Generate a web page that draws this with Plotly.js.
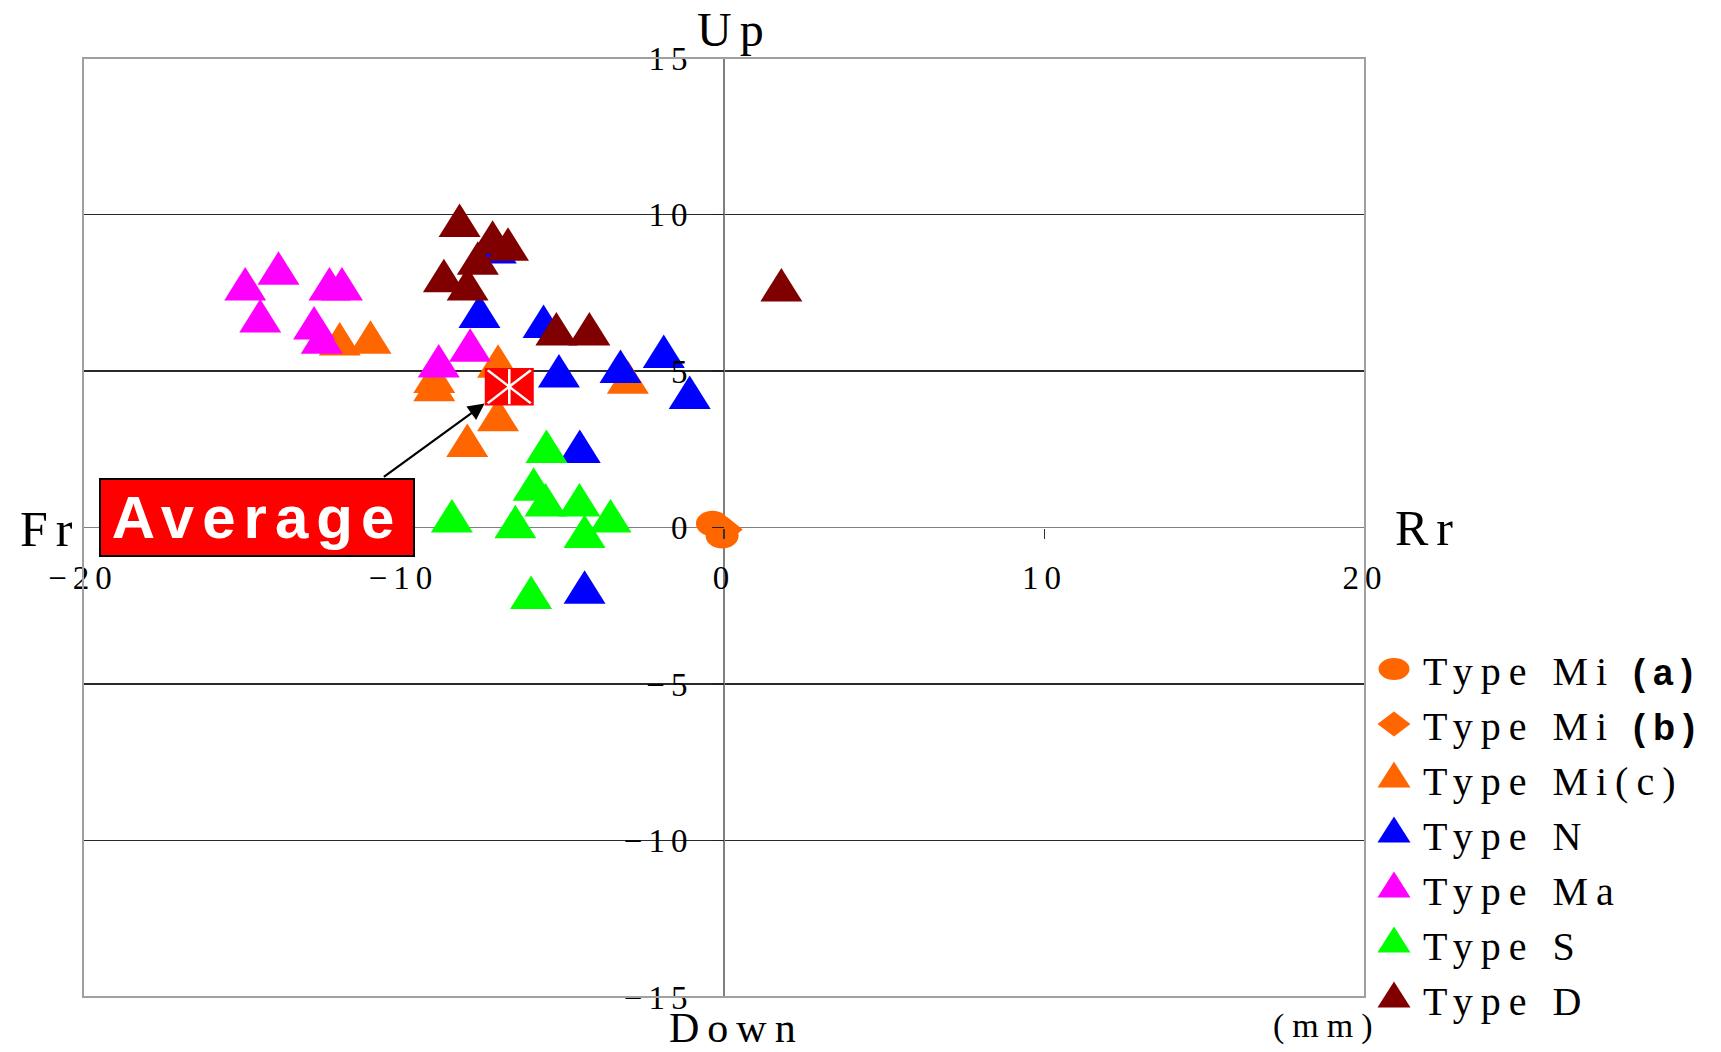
<!DOCTYPE html>
<html><head><meta charset="utf-8">
<script src="https://cdn.plot.ly/plotly-3.0.1.min.js"></script>
<style>
html,body{margin:0;padding:0;background:#fff;}
#plot{width:1721px;height:1052px;}
.xtick text,.ytick text{letter-spacing:6px;}
.legendtext{letter-spacing:8px;}
.annotation-text{letter-spacing:8px;}
</style></head><body><div id="plot"></div>
<script>
// ---- data (mm) ----
const miaX = [-0.36, -0.06];
const miaY = [0.13, -0.26];
const mibX = [0.10];
const mibY = [-0.06];
const micX = [-11.99, -11.03, -9.04, -9.04, -7.05, -7.05, -8.01, -3.00];
const micY = [5.85, 5.91, 4.65, 4.39, 5.14, 3.43, 2.61, 4.63];
const nX = [-7.12, -7.63, -5.63, -5.15, -3.23, -1.88, -1.07, -4.50, -4.35];
const nY = [8.79, 6.73, 6.41, 4.83, 4.97, 5.45, 4.14, 2.42, -2.08];
const maX = [-13.90, -14.94, -14.47, -12.31, -11.92, -12.79, -12.55, -7.92, -8.90];
const maY = [8.11, 7.61, 6.59, 7.61, 7.61, 6.36, 5.91, 5.65, 5.15];
const sX = [-5.54, -5.94, -5.57, -4.51, -3.54, -4.35, -6.51, -8.49, -6.02];
const sY = [2.42, 1.21, 0.71, 0.71, 0.20, -0.30, 0.01, 0.20, -2.25];
const dX = [-8.25, -7.22, -6.74, -7.68, -8.74, -8.00, -5.23, -4.20, 1.79];
const dY = [9.64, 9.10, 8.88, 8.43, 7.87, 7.61, 6.17, 6.17, 7.58];
const avgX = [-6.70];
const avgY = [4.50];
const xTicks = [-20, -10, 0, 10, 20];
const yTicks = [-15, -10, -5, 0, 5, 10, 15];
const seriesNames = [
  'Type Mi <span style="font-family:Liberation Sans;font-size:36px"><b>(a)</b></span>',
  'Type Mi <span style="font-family:Liberation Sans;font-size:36px"><b>(b)</b></span>',
  'Type Mi(c)', 'Type N', 'Type Ma', 'Type S', 'Type D'
];

const ORANGE = '#FF6600', BLUE = '#0000FF', MAGENTA = '#FF00FF', GREEN = '#00FF00', DRED = '#800000';

function tri(x, y, name, color, rank) {
  return {type:'scatter', mode:'markers', x:x, y:y, name:name, legendrank:rank,
    marker:{symbol:'triangle-up', size:37, color:color, line:{width:0}}};
}

const data = [
  {type:'scatter', mode:'markers', x:mibX, y:mibY, name:seriesNames[1], legendrank:2,
   marker:{symbol:'diamond', size:24, color:ORANGE, line:{width:0}}},
  {type:'scatter', mode:'markers', x:miaX, y:miaY, name:seriesNames[0], legendrank:1,
   marker:{symbol:'circle', size:30, color:ORANGE, line:{width:0}}},
  tri(micX, micY, seriesNames[2], ORANGE, 3),
  tri(nX, nY, seriesNames[3], BLUE, 4),
  tri(maX, maY, seriesNames[4], MAGENTA, 5),
  tri(sX, sY, seriesNames[5], GREEN, 6),
  tri(dX, dY, seriesNames[6], DRED, 7),
  {type:'scatter', mode:'markers', x:avgX, y:avgY, showlegend:false,
   marker:{symbol:'square', size:40, color:'#FF0000', line:{width:0}}},
  {type:'scatter', mode:'markers', x:avgX, y:avgY, showlegend:false,
   marker:{symbol:'x-thin-open', size:34, color:'#FFFFFF', line:{width:2.2, color:'#FFFFFF'}}},
  {type:'scatter', mode:'markers', x:avgX, y:avgY, showlegend:false,
   marker:{symbol:'line-ns-open', size:25, color:'#FFFFFF', line:{width:2.6, color:'#FFFFFF'}}}
];

const serif = 'Liberation Serif, Times New Roman, serif';
const layout = {
  width:1721, height:1052,
  margin:{l:83, r:356, t:58, b:55},
  paper_bgcolor:'#fff', plot_bgcolor:'#fff',
  showlegend:true, hovermode:false,
  xaxis:{range:[-20,20], tickvals:xTicks, anchor:'free', position:0.5,
    showgrid:false, zeroline:true, zerolinecolor:'#808080', zerolinewidth:1.6,
    showline:false, ticks:'outside', ticklen:10, tickwidth:1.3, tickcolor:'#333',
    ticklabelstandoff:11,
    tickfont:{family:serif, size:33, color:'#000'}, automargin:false, fixedrange:true},
  yaxis:{range:[-15,15], tickvals:yTicks, anchor:'free', position:0.5,
    showgrid:true, gridcolor:'#2a2a2a', gridwidth:1.2,
    zeroline:true, zerolinecolor:'#808080', zerolinewidth:1.6,
    showline:false, ticks:'outside', ticklen:12, tickwidth:1.3, tickcolor:'#222',
    ticklabelstandoff:12,
    tickfont:{family:serif, size:33, color:'#000'}, automargin:false, fixedrange:true},
  xaxis2:{overlaying:'x', range:[-20,20], tickvals:xTicks, anchor:'free', position:0.5,
    showticklabels:false, showgrid:false, zeroline:false, showline:false,
    ticks:'inside', ticklen:10, tickwidth:1.3, tickcolor:'#333', fixedrange:true},
  yaxis2:{overlaying:'y', range:[-15,15], tickvals:yTicks, anchor:'free', position:0.5,
    showticklabels:false, showgrid:false, zeroline:false, showline:false,
    ticks:'inside', ticklen:12, tickwidth:1.3, tickcolor:'#222', fixedrange:true},
  legend:{x:1.0, xanchor:'left', y:0.384, yanchor:'top', bgcolor:'rgba(0,0,0,0)',
    borderwidth:0, itemwidth:48, traceorder:'normal',
    font:{family:serif, size:40, color:'#000'}},
  shapes:[{type:'rect', xref:'paper', yref:'paper', x0:0, x1:1, y0:0, y1:1,
    line:{color:'#a0a0a0', width:2}, fillcolor:'rgba(0,0,0,0)', layer:'above'}],
  annotations:[
    {xref:'paper', yref:'paper', x:0.508, y:1.030, text:'Up', showarrow:false,
     xanchor:'center', yanchor:'middle', font:{family:serif, size:48, color:'#000'}},
    {xref:'paper', yref:'paper', x:0.510, y:-0.0335, text:'Down', showarrow:false,
     xanchor:'center', yanchor:'middle', font:{family:serif, size:42, color:'#000'}},
    {xref:'paper', yref:'paper', x:-0.026, y:0.498, text:'Fr', showarrow:false,
     xanchor:'center', yanchor:'middle', font:{family:serif, size:50, color:'#000'}},
    {xref:'paper', yref:'paper', x:1.049, y:0.500, text:'Rr', showarrow:false,
     xanchor:'center', yanchor:'middle', font:{family:serif, size:50, color:'#000'}},
    {xref:'paper', yref:'paper', x:0.970, y:-0.031, text:'(mm)', showarrow:false,
     xanchor:'center', yanchor:'middle', font:{family:serif, size:34, color:'#000'}},
    {xref:'x', yref:'y', axref:'x', ayref:'y', x:-7.47, y:3.96, ax:-10.66, ay:1.58,
     text:'', showarrow:true, arrowhead:2, arrowsize:1.5, arrowwidth:2.2,
     arrowcolor:'#000', standoff:0},
    {xref:'x', yref:'y', x:-14.56, y:0.32, text:'Average', showarrow:false,
     xanchor:'center', yanchor:'middle', bgcolor:'#FF0000', bordercolor:'#000',
     borderwidth:2, borderpad:0, width:312, height:75,
     font:{family:'Liberation Sans, Arial, sans-serif', size:60, color:'#FFFFFF', weight:'bold'}}
  ]
};

function getTrace(d) {
  let k = 0;
  while (Array.isArray(d) && k < 5) { d = d[0]; k++; }
  return d && d.trace;
}
function scaleTo(path, tw, th) {
  const b = path.getBBox();
  if (!b.width || !b.height) return;
  const t = path.getAttribute('transform') || '';
  path.setAttribute('transform', t + ' scale(' + (tw / b.width).toFixed(3) + ',' + (th / b.height).toFixed(3) + ')');
}
const dataTarget = {'triangle-up':[42,33.5], 'circle':[33,25.5], 'diamond':[31,25],
  'square':[49,37.5], 'x-thin-open':[43,33]};
const legTarget = {'triangle-up':[33,26], 'circle':[31,22], 'diamond':[33,25]};

Plotly.newPlot('plot', data, layout, {staticPlot:true, displayModeBar:false}).then(function(gd) {
  document.querySelectorAll('#plot .scatterlayer .trace').forEach(function(g) {
    const tr = getTrace(g.__data__);
    if (!tr) return;
    const tg = dataTarget[tr.marker.symbol];
    if (!tg) return;
    g.querySelectorAll('path.point').forEach(function(p) { scaleTo(p, tg[0], tg[1]); });
  });
  document.querySelectorAll('#plot .legend .traces').forEach(function(g) {
    const tr = getTrace(g.__data__);
    if (!tr) return;
    const tg = legTarget[tr.marker.symbol];
    if (!tg) return;
    g.querySelectorAll('path.scatterpts').forEach(function(p) { scaleTo(p, tg[0], tg[1]); });
  });
});
</script></body></html>
